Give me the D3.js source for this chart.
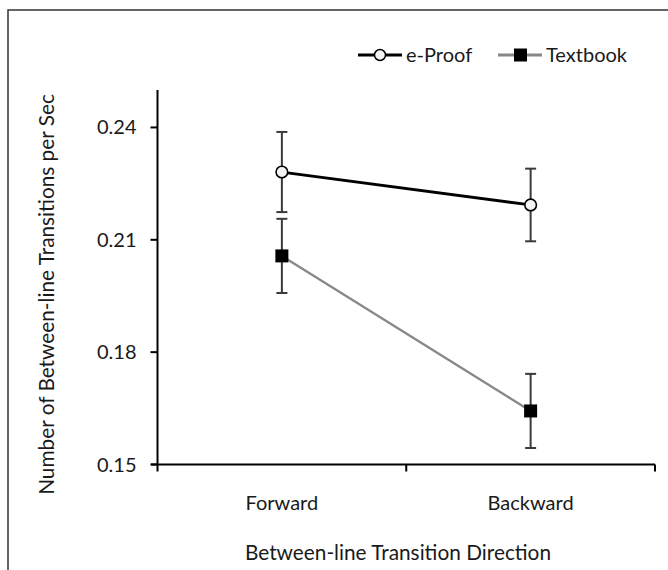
<!DOCTYPE html>
<html>
<head>
<meta charset="utf-8">
<script src="https://cdn.jsdelivr.net/npm/d3@7"></script>
<style>
  html, body { margin: 0; padding: 0; background: #fff; }
  text { font-family: Lato, "Open Sans", sans-serif; fill: #1a1a1a; }
</style>
</head>
<body>
<svg id="chart" width="668" height="570"></svg>
<script>
const categories = ["Forward", "Backward"];
const seriesNames = ["e-Proof", "Textbook"];
const eProofMeans = [0.2281, 0.2193];
const eProofErrors = [0.0107, 0.0097];
const textbookMeans = [0.2057, 0.1643];
const textbookErrors = [0.0099, 0.0099];
const yTicks = [0.15, 0.18, 0.21, 0.24];
const yDomain = [0.15, 0.25];
const xTitle = "Between-line Transition Direction";
const yTitle = "Number of Between-line Transitions per Sec";

const svg = d3.select("#chart");
const fs = 20;
const fsTitle = 20.8;

// outer frame
svg.append("rect").attr("x", 8).attr("y", 10).attr("width", 700).attr("height", 600)
  .attr("fill", "none").attr("stroke", "#333").attr("stroke-width", 1.5);

const x = d3.scaleBand().domain(categories).range([157.5, 655]);
const y = d3.scaleLinear().domain(yDomain).range([464.5, 90]);

// Y axis
const yAxisG = svg.append("g").attr("transform", "translate(157.5,0)");
yAxisG.append("line").attr("y1", y(yDomain[0])).attr("y2", y(yDomain[1]))
  .attr("stroke", "#000").attr("stroke-width", 2);
yAxisG.selectAll(".yt").data(yTicks).enter().append("line")
  .attr("x1", -7).attr("x2", 0).attr("y1", d => y(d)).attr("y2", d => y(d))
  .attr("stroke", "#000").attr("stroke-width", 2);
yAxisG.selectAll(".yl").data(yTicks).enter().append("text")
  .attr("x", -21).attr("y", d => y(d)).attr("dy", "0.35em")
  .attr("text-anchor", "end").attr("font-size", fs)
  .text(d => d3.format(".2f")(d));

// X axis
const xAxisG = svg.append("g").attr("transform", `translate(0,${y(yDomain[0])})`);
xAxisG.append("line").attr("x1", 151).attr("x2", 655)
  .attr("stroke", "#000").attr("stroke-width", 2);
const bounds = [x.range()[0]].concat(categories.map(c => x(c) + x.bandwidth()));
xAxisG.selectAll(".xt").data(bounds).enter().append("line")
  .attr("x1", d => d).attr("x2", d => d).attr("y1", 0).attr("y2", 7)
  .attr("stroke", "#000").attr("stroke-width", 2);
xAxisG.selectAll(".xl").data(categories).enter().append("text")
  .attr("x", d => x(d) + x.bandwidth() / 2).attr("y", 38)
  .attr("dy", "0.35em").attr("text-anchor", "middle").attr("font-size", fs)
  .text(d => d);

// Axis titles
svg.append("text").attr("x", 398).attr("y", 553).attr("dy", "0.35em")
  .attr("text-anchor", "middle").attr("font-size", fsTitle).text(xTitle);
svg.append("text").attr("transform", "translate(47,294.5) rotate(-90)")
  .attr("dy", "0.35em").attr("text-anchor", "middle").attr("font-size", fsTitle).text(yTitle);

const cx = d => x(d) + x.bandwidth() / 2;

function drawSeries(means, errs, lineColor, lineWidth, markerType) {
  const pts = categories.map((c, i) => ({ c, m: means[i], e: errs[i] }));
  svg.append("path").datum(pts)
    .attr("d", d3.line().x(d => cx(d.c)).y(d => y(d.m)))
    .attr("fill", "none").attr("stroke", lineColor).attr("stroke-width", lineWidth);
  const eb = svg.append("g");
  pts.forEach(d => {
    eb.append("line").attr("x1", cx(d.c)).attr("x2", cx(d.c))
      .attr("y1", y(d.m + d.e)).attr("y2", y(d.m - d.e))
      .attr("stroke", "#3a3a3a").attr("stroke-width", 2);
    [d.m + d.e, d.m - d.e].forEach(v => {
      eb.append("line").attr("x1", cx(d.c) - 5.5).attr("x2", cx(d.c) + 5.5)
        .attr("y1", y(v)).attr("y2", y(v))
        .attr("stroke", "#3a3a3a").attr("stroke-width", 2);
    });
  });
  pts.forEach(d => {
    if (markerType === "circle") {
      svg.append("circle").attr("cx", cx(d.c)).attr("cy", y(d.m)).attr("r", 5.8)
        .attr("fill", "#f4f4f4").attr("stroke", "#000").attr("stroke-width", 1.6);
    } else {
      svg.append("rect").attr("x", cx(d.c) - 6.5).attr("y", y(d.m) - 6.5)
        .attr("width", 13).attr("height", 13).attr("fill", "#000");
    }
  });
}

drawSeries(textbookMeans, textbookErrors, "#888", 2.3, "square");
drawSeries(eProofMeans, eProofErrors, "#000", 2.8, "circle");

// Legend
const leg = svg.append("g").attr("transform", "translate(0,55)");
const legItems = [
  { name: seriesNames[0], x0: 358, color: "#000", w: 2.8, type: "circle" },
  { name: seriesNames[1], x0: 498, color: "#888", w: 2.8, type: "square" }
];
legItems.forEach(it => {
  leg.append("line").attr("x1", it.x0).attr("x2", it.x0 + 44).attr("y1", 0).attr("y2", 0)
    .attr("stroke", it.color).attr("stroke-width", it.w);
  if (it.type === "circle") {
    leg.append("circle").attr("cx", it.x0 + 22).attr("cy", 0).attr("r", 5.5)
      .attr("fill", "#f4f4f4").attr("stroke", "#000").attr("stroke-width", 1.5);
  } else {
    leg.append("rect").attr("x", it.x0 + 16).attr("y", -6.5).attr("width", 13).attr("height", 13)
      .attr("fill", "#000");
  }
  leg.append("text").attr("x", it.x0 + 48).attr("y", 0).attr("dy", "0.35em")
    .attr("font-size", fs).text(it.name);
});
</script>
</body>
</html>
